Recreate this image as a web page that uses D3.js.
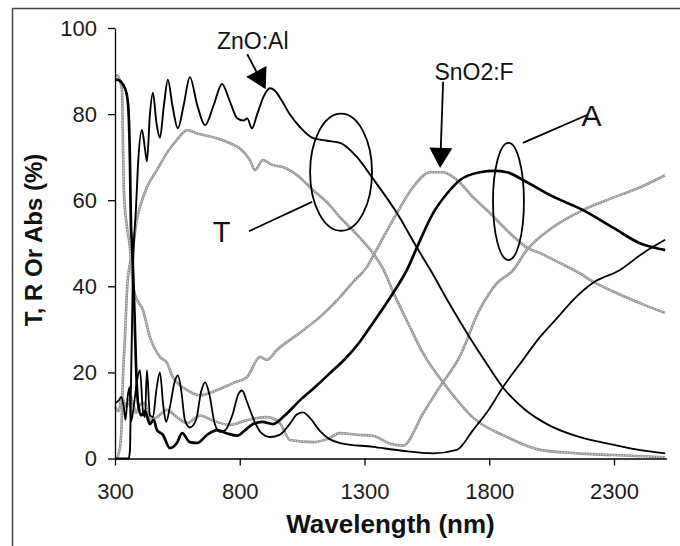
<!DOCTYPE html>
<html>
<head>
<meta charset="utf-8">
<script src="https://cdn.jsdelivr.net/npm/d3@7/dist/d3.min.js"></script>
<style>
  html, body { margin: 0; padding: 0; background: #fff; }
  svg { display: block; }
  text { font-family: Arial, "Liberation Sans", Helvetica, sans-serif; }
</style>
</head>
<body>
<svg id="chart" width="680" height="546"></svg>
<script>
// ---- data: [wavelength nm, percent] ----
const xTicks = [300, 800, 1300, 1800, 2300];
const yTicks = [0, 20, 40, 60, 80, 100];

// ZnO:Al (black)
const znoT = [[300,0],[355,0],[360,2],[364,17],[368,30],[372,44],[384,58],[392,68],[408,76.3],[420,72],[428,69],[440,80],[452,85],[466,78],[480,74.5],[496,82],[512,88],[530,82],[552,76.7],[575,82],[600,88.6],[630,82],[661,77.4],[695,82],[729,87],[760,83],[790,79],[815,78.5],[830,79],[849,76.7],[870,80],[895,84],[921,86],[940,85.5],[970,83],[1000,80],[1041,77],[1094,74.4],[1150,73.8],[1202,73.3],[1270,70],[1334,65],[1430,57],[1510,49],[1562,44],[1640,36],[1723,28],[1790,22],[1855,16.5],[1940,11.5],[2031,8],[2150,5.2],[2272,3.5],[2400,2],[2505,1.2]];
const znoA = [[300,88],[308,88],[340,86],[352,82.5],[360,69],[364,54],[368,50],[372,44],[378,34],[384,22],[392,13],[405,10],[420,11],[440,8],[455,9],[468,6.6],[492,5.5],[520,2.4],[548,3.6],[569,5.9],[600,3.8],[629,3.6],[669,5.5],[709,6.6],[750,5.8],[789,5.3],[820,6.5],[853,8],[890,8.5],[933,8],[980,10],[1041,13.5],[1100,16.5],[1174,20.5],[1220,23],[1280,27],[1334,31.5],[1414,38.4],[1470,43.8],[1510,49],[1575,57],[1630,61.5],[1683,64.7],[1763,66.5],[1820,66.8],[1871,66.5],[1935,64.7],[2050,61],[2176,57.7],[2300,53.5],[2404,50],[2460,49],[2505,48.4]];
const znoR = [[300,12.8],[315,13.5],[325,14.3],[335,12],[342,9],[350,14],[358,16.6],[364,8.5],[375,12],[388,18],[400,20.5],[412,11],[420,9.6],[428,20.5],[440,10],[452,9.6],[466,16],[480,20],[494,12],[505,8.5],[520,12],[540,18],[552,19.3],[565,16],[580,9],[600,7.2],[625,9],[645,15.5],[661,17.7],[678,15],[700,8],[720,6.2],[740,6.5],[770,10],[795,15],[809,15.8],[830,13],[860,8.5],[885,6],[921,5],[960,5.5],[1000,8],[1030,10.3],[1053,10.7],[1080,9.5],[1120,6.5],[1160,4.5],[1202,3.6],[1334,2.7],[1450,1.8],[1575,1.2],[1670,2],[1735,6.6],[1800,11.5],[1855,16.6],[1930,22.5],[2003,28.2],[2070,32.5],[2136,36.8],[2216,40.8],[2324,43.8],[2416,47.7],[2505,50.8]];

// SnO2:F (grey)
const snoT = [[300,0],[306,0],[318,2],[325,5.8],[333,20.5],[340,28],[348,39],[362,46],[372,49],[386,55],[400,58.4],[428,63],[468,67],[508,71],[548,74],[590,76.3],[630,75.5],[680,74.8],[730,74],[770,73],[801,72],[841,69.3],[861,67],[893,69.3],[930,68.2],[973,67.7],[1041,65.3],[1094,62.3],[1150,59.5],[1202,56],[1270,52],[1334,47.7],[1375,44],[1420,38],[1470,32],[1535,24.4],[1631,16.5],[1735,9.5],[1871,5],[2003,2],[2150,1.2],[2300,0.8],[2505,0.3]];
const snoA = [[300,89],[308,89],[328,85.6],[332,73],[336,61.6],[348,53.8],[360,49],[368,43],[380,38],[412,34.5],[440,28.2],[480,23.6],[508,22.2],[532,18.9],[589,15.9],[641,14.7],[709,15.9],[773,17.5],[829,18.9],[881,23.6],[909,22.9],[949,25.2],[1041,29.2],[1122,32.9],[1202,37.5],[1254,41],[1310,44.5],[1334,47],[1430,57],[1494,63],[1563,66.5],[1615,66.5],[1671,64.7],[1735,60.7],[1803,57],[1871,53],[1951,49],[2003,47.7],[2084,45.4],[2164,43],[2204,41.5],[2296,38.8],[2404,36.1],[2505,33.8]];
const snoR = [[300,12],[315,11],[327,14.3],[345,12],[364,14.3],[384,10.6],[400,12.5],[420,12.9],[440,9],[468,9.6],[508,11.3],[548,9.6],[589,8.2],[641,10],[693,8.8],[761,7.8],[829,8.9],[870,9.4],[909,9.6],[961,8.2],[1001,4.3],[1094,3.8],[1150,4.5],[1202,5.9],[1270,5.5],[1334,5.3],[1400,3.5],[1455,3],[1535,10.5],[1600,16.5],[1680,23.5],[1760,34.4],[1830,40.7],[1895,43.7],[1950,48.4],[2055,53.7],[2175,57.7],[2270,60],[2405,63],[2505,65.8]];

// ---- drawing ----
const svg = d3.select('#chart');
svg.append('rect').attr('width', 680).attr('height', 546).attr('fill', '#fff');
// outer frame
svg.append('rect').attr('x', 12.5).attr('y', 8.5).attr('width', 700).attr('height', 600)
  .attr('fill', 'none').attr('stroke', '#444').attr('stroke-width', 1.5);

const x = d3.scaleLinear().domain([300, 2510]).range([115, 666.4]);
const y = d3.scaleLinear().domain([0, 100]).range([458.5, 28]);

const line = d3.line().x(d => x(d[0])).y(d => y(d[1])).curve(d3.curveMonotoneX);

// grey series (speckled look)
[snoT, snoA, snoR].forEach(s => {
  svg.append('path').attr('d', line(s)).attr('fill', 'none')
    .attr('stroke', '#939393').attr('stroke-width', 2.6).attr('stroke-linejoin', 'round');
  svg.append('path').attr('d', line(s)).attr('fill', 'none')
    .attr('stroke', '#fff').attr('stroke-width', 0.9).attr('stroke-dasharray', '1.2,1.6').attr('opacity', 0.9);
});
// black series
svg.append('path').attr('d', line(znoR)).attr('fill', 'none').attr('stroke', '#000').attr('stroke-width', 1.8).attr('stroke-linejoin', 'round');
svg.append('path').attr('d', line(znoT)).attr('fill', 'none').attr('stroke', '#000').attr('stroke-width', 1.9).attr('stroke-linejoin', 'round');
svg.append('path').attr('d', line(znoA)).attr('fill', 'none').attr('stroke', '#000').attr('stroke-width', 2.7).attr('stroke-linejoin', 'round');

// axes
const gx = svg.append('g').attr('transform', 'translate(0,458.5)')
  .call(d3.axisBottom(x).tickValues(xTicks).tickSize(7).tickSizeOuter(0).tickFormat(d3.format('d')));
gx.selectAll('text').attr('y', 24.5).attr('font-size', 22).attr('fill', '#1c1c1c').attr('font-family', 'Arial, "Liberation Sans", sans-serif');
const gy = svg.append('g').attr('transform', 'translate(115,0)')
  .call(d3.axisLeft(y).tickValues(yTicks).tickSize(7).tickPadding(11).tickSizeOuter(0));
gy.selectAll('text').attr('font-size', 22).attr('fill', '#1c1c1c').attr('font-family', 'Arial, "Liberation Sans", sans-serif');
[gx, gy].forEach(g => {
  g.select('.domain').attr('stroke', '#000').attr('stroke-width', 1.3);
  g.selectAll('.tick line').attr('stroke', '#000').attr('stroke-width', 1.3);
});

// axis titles
svg.append('text').attr('x', 390.5).attr('y', 533).attr('text-anchor', 'middle')
  .attr('font-size', 26).attr('font-weight', 'bold').attr('fill', '#111').text('Wavelength (nm)');
svg.append('text').attr('transform', 'translate(42,240) rotate(-90)').attr('text-anchor', 'middle')
  .attr('font-size', 24).attr('font-weight', 'bold').attr('fill', '#111').text('T, R Or Abs (%)');

// annotations (positions in data units)
const ann = svg.append('g').attr('fill', 'none').attr('stroke', '#000').attr('stroke-width', 1.8);
function ellipse(cx, cy, rxNm, ryPct) {
  ann.append('ellipse').attr('cx', x(cx)).attr('cy', y(cy))
    .attr('rx', x(300 + rxNm) - x(300)).attr('ry', y(0) - y(ryPct));
}
ellipse(1206, 66.5, 124, 13.6);
ellipse(1877, 59.7, 62, 13.6);
function seg(a, b) {
  ann.append('line').attr('x1', x(a[0])).attr('y1', y(a[1])).attr('x2', x(b[0])).attr('y2', y(b[1]));
}
seg([837, 52.8], [1090, 59.6]);
seg([1935, 73.3], [2192, 79.8]);

function arrow(from, to) {
  const x1 = x(from[0]), y1 = y(from[1]), x2 = x(to[0]), y2 = y(to[1]);
  const dx = x2 - x1, dy = y2 - y1, L = Math.hypot(dx, dy);
  const ux = dx / L, uy = dy / L, hl = 20, hw = 11.5;
  const bx = x2 - ux * hl, by = y2 - uy * hl;
  svg.append('line').attr('x1', x1).attr('y1', y1).attr('x2', bx).attr('y2', by)
    .attr('stroke', '#000').attr('stroke-width', 1.8);
  svg.append('polygon')
    .attr('points', [[x2, y2], [bx - uy * hw, by + ux * hw], [bx + uy * hw, by - ux * hw]].map(p => p.join(',')).join(' '))
    .attr('fill', '#000');
}
arrow([830, 93.9], [904, 85.8]);
arrow([1615, 87.5], [1603, 67.5]);

const lab = (t, xv, yv, fs) => svg.append('text').attr('x', x(xv)).attr('y', y(yv))
  .attr('text-anchor', 'middle').attr('font-size', fs).attr('fill', '#111').text(t);
lab('ZnO:Al', 852, 95.1, 23);
lab('SnO2:F', 1739, 87.9, 23);
lab('T', 727, 50.2, 29);
lab('A', 2210, 77.2, 30);
</script>
</body>
</html>
